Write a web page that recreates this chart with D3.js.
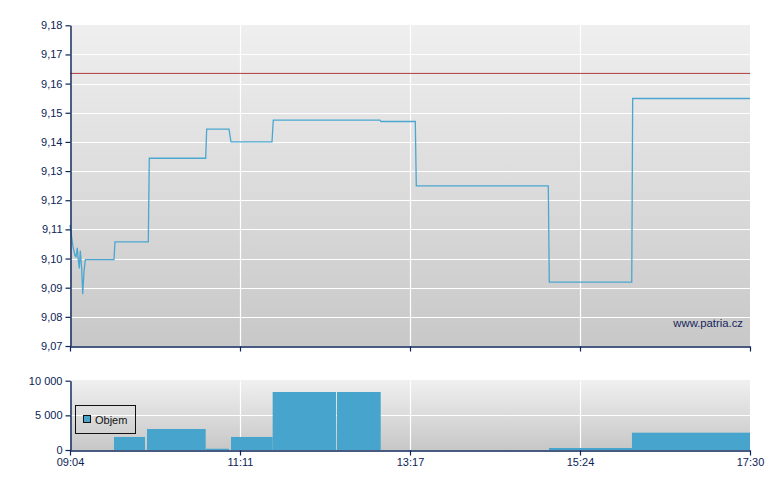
<!DOCTYPE html>
<html>
<head>
<meta charset="utf-8">
<script src="https://cdn.jsdelivr.net/npm/d3@7"></script>
<style>
  html, body { margin: 0; padding: 0; background: #ffffff; }
  svg { display: block; font-family: "Liberation Sans", Arial, sans-serif; }
</style>
</head>
<body>
<svg id="chart" width="780" height="490"></svg>
<script>
// ---------- DATA ----------
const priceTimes = [
  "09:04:00","09:06:14","09:07:43","09:08:28","09:09:26","09:09:57","09:10:55",
  "09:11:40","09:12:42","09:13:27","09:14:25","09:15:23","09:36:44","09:37:29",
  "10:02:16","10:03:00","10:44:58","10:45:43","11:02:18","11:03:48","11:34:18",
  "11:35:17","12:54:40","12:55:25","13:20:56","13:21:41","14:59:54","15:00:39",
  "16:02:00","16:02:42","17:30:00"
];
const priceValues = [
  9.1115, 9.1040, 9.1010, 9.1006, 9.1037, 9.1005, 9.0966,
  9.1027, 9.0966, 9.0878, 9.0955, 9.0996, 9.0996, 9.1057,
  9.1057, 9.1344, 9.1344, 9.1444, 9.1444, 9.1400, 9.1400,
  9.1475, 9.1475, 9.1470, 9.1470, 9.1249, 9.1249, 9.0919,
  9.0919, 9.1549, 9.1549
];
const referencePrice = 9.1635;

const volStart  = ["09:36:44","10:01:18","10:45:12","11:03:48","11:34:48","12:22:40","15:00:25","16:02:09"];
const volEnd    = ["09:59:48","10:44:58","11:02:18","11:34:48","12:21:56","12:55:12","16:02:09","17:30:00"];
const volValues = [1880, 3030, 180, 1880, 8370, 8370, 290, 2500];

const timeDomain = ["09:04:00", "17:30:00"];
const timeTickValues = ["09:04:00","11:10:30","13:17:00","15:23:30","17:30:00"];
const timeTickLabels = ["09:04","11:11","13:17","15:24","17:30"];

const priceDomain = [9.07, 9.18];
const priceTickValues = [9.07, 9.08, 9.09, 9.10, 9.11, 9.12, 9.13, 9.14, 9.15, 9.16, 9.17, 9.18];
const priceTickLabels = ["9,07","9,08","9,09","9,10","9,11","9,12","9,13","9,14","9,15","9,16","9,17","9,18"];

const volDomain = [0, 10000];
const volTickValues = [0, 5000, 10000];
const volTickLabels = ["0", "5 000", "10 000"];

const seriesName = "Objem";
const watermark = "www.patria.cz";

// ---------- LAYOUT ----------
const svg = d3.select("#chart");
const parseT = d3.timeParse("%H:%M:%S");
const left = 70, right = 750;
const mainTop = 25.3, mainBottom = 346;
const volTop = 380.7, volBottom = 450;
const axisColor = "#0b2356";
const textColor = "#0b2356";
const blue = "#47a5cd";

const x = d3.scaleTime().domain(timeDomain.map(parseT)).range([left, right]);
const y = d3.scaleLinear().domain(priceDomain).range([mainBottom, mainTop]);
const yv = d3.scaleLinear().domain(volDomain).range([volBottom, volTop]);

const defs = svg.append("defs");
function grad(id, c1, c2) {
  const g = defs.append("linearGradient").attr("id", id)
    .attr("x1", 0).attr("y1", 0).attr("x2", 0).attr("y2", 1);
  g.append("stop").attr("offset", "0%").attr("stop-color", c1);
  g.append("stop").attr("offset", "100%").attr("stop-color", c2);
}
grad("bgMain", "#efefef", "#c8c8c8");
grad("bgVol", "#f0f0f0", "#c7c7c7");

// ---------- MAIN PANEL ----------
svg.append("rect").attr("x", left).attr("y", mainTop - 0.3)
  .attr("width", right - left).attr("height", mainBottom - mainTop + 0.3)
  .attr("fill", "url(#bgMain)");

// grid
svg.append("g").selectAll("line")
  .data(priceTickValues.slice(1, -1)).join("line")
  .attr("x1", left).attr("x2", right)
  .attr("y1", d => Math.round(y(d)) + 0.5).attr("y2", d => Math.round(y(d)) + 0.5)
  .attr("stroke", "#ffffff").attr("stroke-width", 1.2);
svg.append("g").selectAll("line")
  .data(timeTickValues.slice(1, -1)).join("line")
  .attr("x1", d => Math.round(x(parseT(d))) + 0.5).attr("x2", d => Math.round(x(parseT(d))) + 0.5)
  .attr("y1", mainTop).attr("y2", mainBottom)
  .attr("stroke", "#ffffff").attr("stroke-width", 1.2);

// reference line
svg.append("line")
  .attr("x1", left).attr("x2", right)
  .attr("y1", y(referencePrice)).attr("y2", y(referencePrice))
  .attr("stroke", "#b23a3a").attr("stroke-width", 1);

// price line
const pts = priceTimes.map((t, i) => [parseT(t), priceValues[i]]);
svg.append("path").datum(pts)
  .attr("fill", "none").attr("stroke", "#4ba6d0").attr("stroke-width", 1.3)
  .attr("stroke-linejoin", "miter")
  .attr("d", d3.line().x(d => x(d[0])).y(d => y(d[1])));

// watermark
svg.append("text").attr("x", 743).attr("y", 327)
  .attr("text-anchor", "end").attr("font-size", 11.3).attr("fill", "#15275a")
  .text(watermark);

// axes
const yAxis = d3.axisLeft(y).tickValues(priceTickValues)
  .tickFormat((d, i) => priceTickLabels[i]).tickSizeInner(5).tickSizeOuter(0).tickPadding(3);
const gy = svg.append("g").attr("transform", `translate(${left + 0.5},0)`).call(yAxis);

const xAxisMain = d3.axisBottom(x).tickValues(timeTickValues.map(parseT))
  .tickFormat("").tickSizeInner(5).tickSizeOuter(0);
const gxm = svg.append("g").attr("transform", `translate(0,${mainBottom + 0.5})`).call(xAxisMain);

// ---------- VOLUME PANEL ----------
svg.append("rect").attr("x", left).attr("y", volTop - 0.7)
  .attr("width", right - left).attr("height", volBottom - volTop + 0.7)
  .attr("fill", "url(#bgVol)");

svg.append("g").selectAll("line")
  .data(volTickValues.slice(1, -1)).join("line")
  .attr("x1", left).attr("x2", right)
  .attr("y1", d => Math.round(yv(d)) + 0.5).attr("y2", d => Math.round(yv(d)) + 0.5)
  .attr("stroke", "#ffffff").attr("stroke-width", 1.2);
svg.append("g").selectAll("line")
  .data(timeTickValues.slice(1, -1)).join("line")
  .attr("x1", d => Math.round(x(parseT(d))) + 0.5).attr("x2", d => Math.round(x(parseT(d))) + 0.5)
  .attr("y1", volTop).attr("y2", volBottom)
  .attr("stroke", "#ffffff").attr("stroke-width", 1.2);

// bars
svg.append("g").selectAll("rect")
  .data(volValues.map((v, i) => ({ s: parseT(volStart[i]), e: parseT(volEnd[i]), v })))
  .join("rect")
  .attr("x", d => x(d.s)).attr("width", d => x(d.e) - x(d.s))
  .attr("y", d => yv(d.v)).attr("height", d => volBottom - yv(d.v))
  .attr("fill", blue);

// axes
const yvAxis = d3.axisLeft(yv).tickValues(volTickValues)
  .tickFormat((d, i) => volTickLabels[i]).tickSizeInner(5).tickSizeOuter(0).tickPadding(3);
const gyv = svg.append("g").attr("transform", `translate(${left + 0.5},0)`).call(yvAxis);

const xAxis = d3.axisBottom(x).tickValues(timeTickValues.map(parseT))
  .tickFormat((d, i) => timeTickLabels[i]).tickSizeInner(5).tickSizeOuter(0).tickPadding(3);
const gx = svg.append("g").attr("transform", `translate(0,${volBottom + 0.5})`).call(xAxis);

[gy, gxm, gyv, gx].forEach(g => {
  g.selectAll("path.domain").attr("stroke", axisColor).attr("stroke-width", 1.4);
  g.selectAll(".tick line").attr("stroke", axisColor).attr("stroke-width", 1.2);
  g.selectAll(".tick text").attr("fill", textColor)
    .attr("font-size", 11).attr("font-family", "Liberation Sans, Arial, sans-serif");
});

// legend
const lg = svg.append("g");
lg.append("rect").attr("x", 75.5).attr("y", 405.5).attr("width", 60).attr("height", 28)
  .attr("fill", "none").attr("stroke", "#111").attr("stroke-width", 1);
lg.append("rect").attr("x", 83.5).attr("y", 415.5).attr("width", 7).attr("height", 7)
  .attr("fill", blue).attr("stroke", "#111").attr("stroke-width", 1);
lg.append("text").attr("x", 95).attr("y", 423.5).attr("font-size", 11)
  .attr("fill", "#111").text(seriesName);
</script>
</body>
</html>
